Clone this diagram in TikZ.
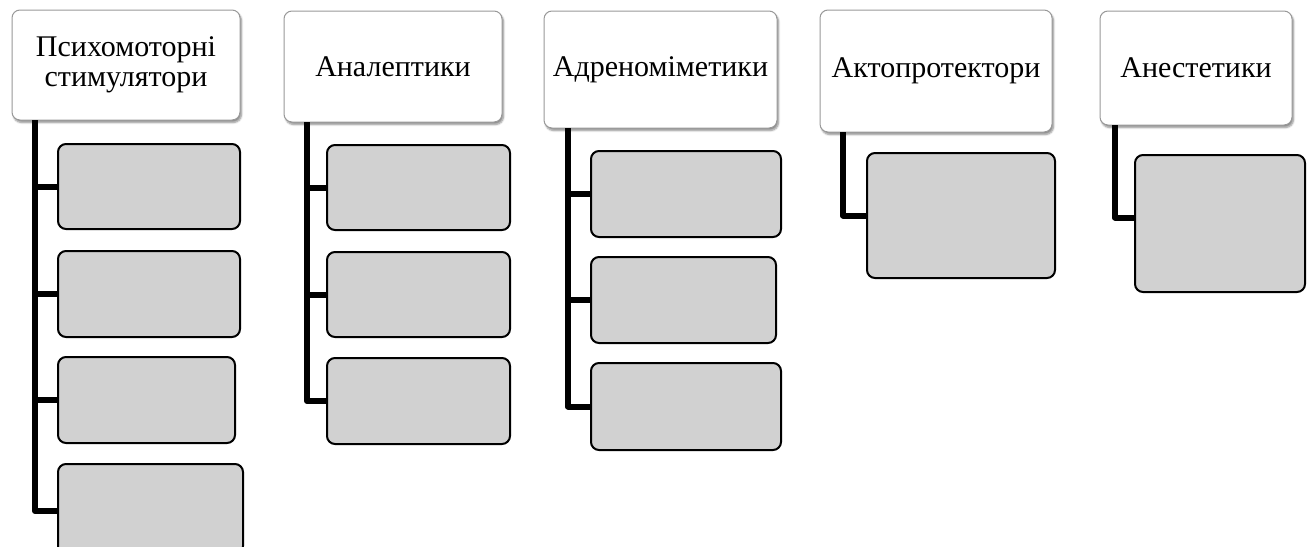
\documentclass[tikz,border=0pt]{standalone}
\usepackage{fontspec}
\setmainfont{Liberation Serif}
\usetikzlibrary{shadows.blur}

\begin{document}
\begin{tikzpicture}[x=1pt,y=-1pt,
  group/.style={draw=black!40,fill=white,rounded corners=8pt,line width=1pt,
    blur shadow={shadow xshift=1.5pt,shadow yshift=-2.5pt,shadow blur steps=6,shadow opacity=45},
    inner sep=0pt,outer sep=0pt,align=center,font=\fontsize{30}{30}\selectfont},
  item/.style={draw=black,fill=black!18,rounded corners=8pt,line width=2pt,
    inner sep=0pt,outer sep=0pt},
  trunk/.style={line width=6pt,line join=round}]
  \useasboundingbox (0,0) rectangle (1311,546);
  \node[group,minimum width=228pt,minimum height=110pt] (psy) at (126,65) {Психомоторні\\стимулятори};
  \node[group,minimum width=218pt,minimum height=111pt] (anal) at (393,66.5) {Аналептики};
  \node[group,minimum width=233pt,minimum height=117pt] (adr) at (660.5,69.5) {Адреноміметики};
  \node[group,minimum width=232pt,minimum height=122pt] (akt) at (936,71) {Актопротектори};
  \node[group,minimum width=192pt,minimum height=114pt] (anes) at (1196,68) {Анестетики};

  \node[item,minimum width=182pt,minimum height=85pt] (psy1) at (149,186.5) {};
  \node[item,minimum width=182pt,minimum height=86pt] (psy2) at (149,294) {};
  \node[item,minimum width=177pt,minimum height=86pt] (psy3) at (146.5,400) {};
  \node[item,minimum width=185pt,minimum height=90pt] (psy4) at (150.5,509) {};
  \node[item,minimum width=183pt,minimum height=85pt] (anal1) at (418.5,187.5) {};
  \node[item,minimum width=183pt,minimum height=85pt] (anal2) at (418.5,294.5) {};
  \node[item,minimum width=183pt,minimum height=86pt] (anal3) at (418.5,401) {};
  \node[item,minimum width=190pt,minimum height=86pt] (adr1) at (686,194) {};
  \node[item,minimum width=185pt,minimum height=86pt] (adr2) at (683.5,300) {};
  \node[item,minimum width=190pt,minimum height=87pt] (adr3) at (686,406.5) {};
  \node[item,minimum width=188pt,minimum height=125pt] (akt1) at (961,215.5) {};
  \node[item,minimum width=170pt,minimum height=137pt] (anes1) at (1220,223.5) {};

  \coordinate (psyt) at ([xshift=23pt]psy.south west);
  \coordinate (analt) at ([xshift=23pt]anal.south west);
  \coordinate (adrt) at ([xshift=24pt]adr.south west);
  \coordinate (aktt) at ([xshift=23pt]akt.south west);
  \coordinate (anest) at ([xshift=15pt]anes.south west);

  \draw[trunk] (psyt) |- (psy1.west);
  \draw[trunk] (psyt) |- (psy2.west);
  \draw[trunk] (psyt) |- (psy3.west);
  \draw[trunk] (psyt) |- ([yshift=-2pt]psy4.west);
  \draw[trunk] (analt) |- (anal1.west);
  \draw[trunk] (analt) |- (anal2.west);
  \draw[trunk] (analt) |- (anal3.west);
  \draw[trunk] (adrt) |- (adr1.west);
  \draw[trunk] (adrt) |- (adr2.west);
  \draw[trunk] (adrt) |- (adr3.west);
  \draw[trunk] (aktt) |- (akt1.west);
  \draw[trunk] (anest) |- ([yshift=6pt]anes1.west);
\end{tikzpicture}
\end{document}
